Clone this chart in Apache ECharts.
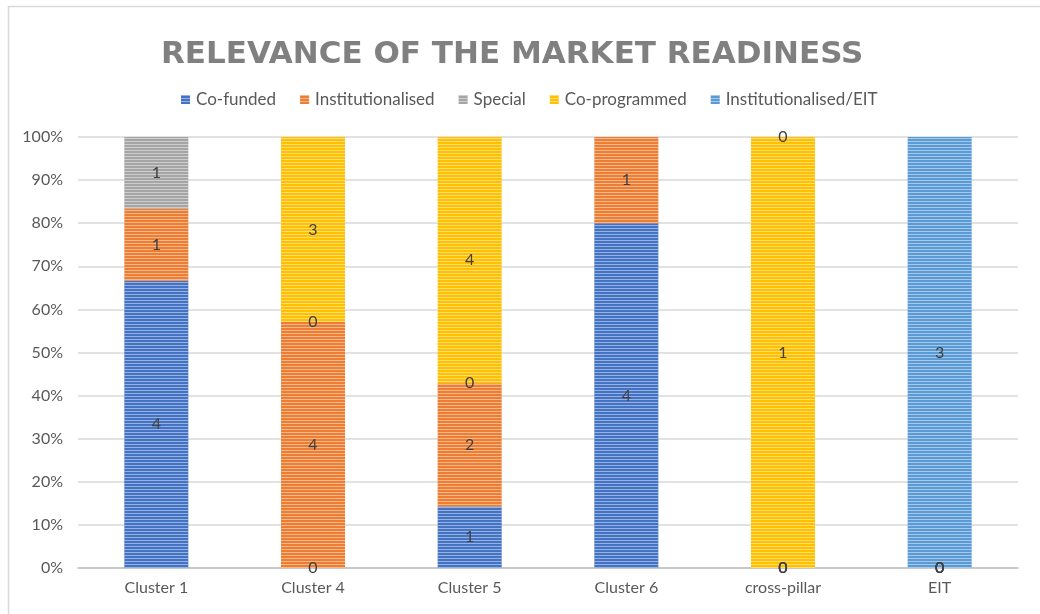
<!DOCTYPE html>
<html>
<head>
<meta charset="utf-8">
<script src="https://cdn.jsdelivr.net/npm/echarts@6/dist/echarts.min.js"></script>
<style>
  html, body { margin: 0; padding: 0; background: #fff; }
  #chart { width: 1040px; height: 614px; }
</style>
</head>
<body>
<div id="chart"></div>
<script>
// Categories along the x axis
const categories = ['Cluster 1', 'Cluster 4', 'Cluster 5', 'Cluster 6', 'cross-pillar', 'EIT'];

// Counts per programme type (null = no entry for that category)
const coFunded          = [4, 0, 1, 4, 0, 0];
const institutionalised = [1, 4, 2, 1, 0, 0];
const special           = [1, 0, 0, null, 0, 0];
const coProgrammed      = [null, 3, 4, null, 1, 0];
const instEIT           = [null, null, null, null, 0, 3];

const seriesNames = ['Co-funded', 'Institutionalised', 'Special', 'Co-programmed', 'Institutionalised/EIT'];
const seriesCounts = [coFunded, institutionalised, special, coProgrammed, instEIT];
const colors = ['#4472C4', '#ED7D31', '#A5A5A5', '#FFC000', '#5B9BD5'];

const yTicks = [0, 10, 20, 30, 40, 50, 60, 70, 80, 90, 100];

// Column totals for the 100% stacking
const totals = categories.map((_, i) =>
  seriesCounts.reduce((s, arr) => s + (arr[i] == null ? 0 : arr[i]), 0));

const font = 'Lato, "Open Sans", sans-serif';

const series = seriesNames.map((name, k) => ({
  name: name,
  type: 'bar',
  stack: 'share',
  barWidth: 64,
  data: seriesCounts[k].map((v, i) => v == null ? null : v / totals[i] * 100),
  itemStyle: {
    color: colors[k],
    decal: {
      symbol: 'rect',
      symbolSize: 1,
      dashArrayX: [1, 0],
      dashArrayY: [1, 2],
      color: 'rgba(255,255,255,0.45)',
      rotation: 0
    }
  },
  label: {
    show: true,
    position: 'inside',
    color: '#404040',
    fontFamily: font,
    fontSize: 16,
    formatter: p => String(seriesCounts[k][p.dataIndex])
  },
  emphasis: { disabled: true }
}));

const chart = echarts.init(document.getElementById('chart'), null, { renderer: 'canvas' });
chart.setOption({
  animation: false,
  backgroundColor: '#fff',
  aria: { enabled: true, decal: { show: true } },
  color: colors,
  title: {
    text: 'RELEVANCE OF THE MARKET READINESS',
    left: 156,
    top: 34,
    textStyle: {
      fontFamily: '"DejaVu Sans", sans-serif',
      fontWeight: 'bold',
      fontSize: 31,
      color: '#808080'
    }
  },
  legend: {
    top: 86,
    left: 176,
    itemWidth: 9,
    itemHeight: 9,
    itemGap: 24,
    icon: 'rect',
    textStyle: { fontFamily: font, fontSize: 17, color: '#595959', padding: [0, 0, 0, 1] },
    data: seriesNames
  },
  grid: { left: 78, right: 22, top: 137, bottom: 46 },
  xAxis: {
    type: 'category',
    data: categories,
    axisLine: { lineStyle: { color: '#bfbfbf', width: 1.5 } },
    axisTick: { show: false },
    axisLabel: { color: '#595959', fontFamily: font, fontSize: 16, margin: 12 }
  },
  yAxis: {
    type: 'value',
    min: 0,
    max: 100,
    interval: 10,
    axisLine: { show: false },
    axisTick: { show: false },
    splitLine: { lineStyle: { color: '#d9d9d9', width: 1.5 } },
    axisLabel: {
      color: '#595959',
      fontFamily: font,
      fontSize: 16,
      margin: 15,
      formatter: v => yTicks.indexOf(v) >= 0 ? v + '%' : ''
    }
  },
  graphic: [{
    type: 'rect',
    left: 6,
    top: 4,
    shape: { width: 1100, height: 700 },
    style: { fill: 'none', stroke: '#d9d9d9', lineWidth: 1.5 },
    silent: true,
    z: -1
  }],
  series: series
});
</script>
</body>
</html>
